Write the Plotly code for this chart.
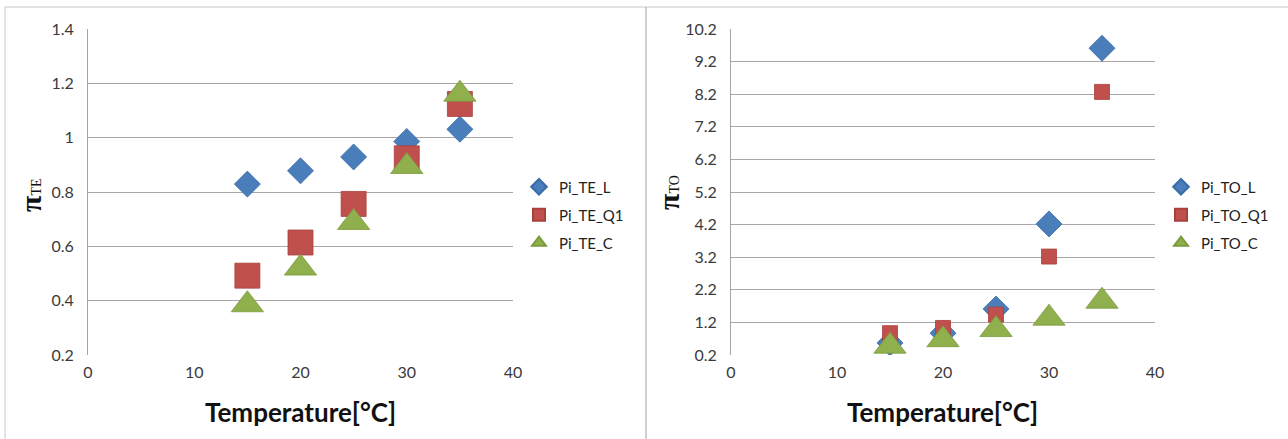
import plotly.graph_objects as go

temps = [15, 20, 25, 30, 35]

pi_te_l = [0.829, 0.878, 0.929, 0.986, 1.031]
pi_te_q1 = [0.492, 0.614, 0.756, 0.924, 1.124]
pi_te_c = [0.385, 0.520, 0.688, 0.894, 1.160]

pi_to_l = [0.57, 0.87, 1.61, 4.22, 9.61]
pi_to_q1 = [0.87, 1.03, 1.44, 3.22, 8.27]
pi_to_c = [0.47, 0.67, 0.98, 1.33, 1.85]

te_ticks = [0.2, 0.4, 0.6, 0.8, 1.0, 1.2, 1.4]
te_ticklabels = ["0.2", "0.4", "0.6", "0.8", "1", "1.2", "1.4"]
to_ticks = [0.2, 1.2, 2.2, 3.2, 4.2, 5.2, 6.2, 7.2, 8.2, 9.2, 10.2]
to_ticklabels = ["0.2", "1.2", "2.2", "3.2", "4.2", "5.2", "6.2", "7.2", "8.2", "9.2", "10.2"]
x_ticks = [0, 10, 20, 30, 40]

W, H = 1288, 439
FONT = "Lato"
BLUE, RED, GREEN = "#4a7ebb", "#c0504d", "#8fb04c"
BLUE_L, RED_L, GREEN_L = "#3a6aa8", "#a8403d", "#7a9a3c"

fig = go.Figure()

def add(x, y, name, sym, size, col, edge, xa, ya, leg):
    fig.add_trace(go.Scatter(
        x=x, y=y, name=name, mode="markers", xaxis=xa, yaxis=ya, legend=leg,
        marker=dict(symbol=sym, size=size, color=col,
                    line=dict(color=edge, width=0.8)),
    ))

add(temps, pi_te_l, "Pi_TE_L", "diamond", 20, BLUE, BLUE_L, "x", "y", "legend")
add(temps, pi_te_q1, "Pi_TE_Q1", "square", 25, RED, RED_L, "x", "y", "legend2")
add(temps, pi_te_c, "Pi_TE_C", "triangle-up", 28, GREEN, GREEN_L, "x", "y", "legend3")
add(temps, pi_to_l, "Pi_TO_L", "diamond", 20, BLUE, BLUE_L, "x2", "y2", "legend4")
add(temps, pi_to_q1, "Pi_TO_Q1", "square", 15, RED, RED_L, "x2", "y2", "legend5")
add(temps, pi_to_c, "Pi_TO_C", "triangle-up", 28, GREEN, GREEN_L, "x2", "y2", "legend6")

ydom = [(H - 355) / H, (H - 29) / H]
grid = "#a6a6a6"
tickfont = dict(family=FONT, size=16, color="#3a3a3a")

xcommon = dict(range=[0, 40], tickvals=x_ticks, showgrid=False, zeroline=False,
               showline=False, ticks="", tickfont=tickfont, fixedrange=True,
               ticklabelstandoff=6, automargin=False)
ycommon = dict(showgrid=True, gridcolor=grid, gridwidth=1, zeroline=False,
               showline=True, linecolor=grid, linewidth=1, ticks="",
               tickfont=tickfont, ticklabelstandoff=10, fixedrange=True,
               automargin=False)

def legend_cfg(xpx, ypx):
    return dict(x=xpx / W, y=1 - ypx / H, xanchor="left", yanchor="middle",
                bgcolor="rgba(0,0,0,0)", itemsizing="constant",
                font=dict(family=FONT, size=15, color="#222222"),
                itemwidth=30, tracegroupgap=0)

fig.update_layout(
    width=W, height=H, autosize=False,
    margin=dict(l=0, r=0, t=0, b=0, pad=0, autoexpand=False),
    paper_bgcolor="white", plot_bgcolor="white",
    xaxis=dict(domain=[88 / W, 513 / W], anchor="y", **xcommon),
    yaxis=dict(domain=ydom, anchor="x", range=[0.2, 1.4], tickvals=te_ticks,
               ticktext=te_ticklabels, **ycommon),
    xaxis2=dict(domain=[731 / W, 1155 / W], anchor="y2", **xcommon),
    yaxis2=dict(domain=ydom, anchor="x2", range=[0.2, 10.2], tickvals=to_ticks,
                ticktext=to_ticklabels, **ycommon),
    legend=legend_cfg(519, 187),
    legend2=legend_cfg(519, 215),
    legend3=legend_cfg(519, 243),
    legend4=legend_cfg(1161, 187),
    legend5=legend_cfg(1161, 215),
    legend6=legend_cfg(1161, 243),
    showlegend=True,
)

# x-axis titles
for cx in (300, 943):
    fig.add_annotation(x=cx / W, y=1 - 412 / H, xref="paper", yref="paper",
                       text="<b>Temperature[°C]</b>", showarrow=False,
                       font=dict(family=FONT, size=26, color="#111111"),
                       xanchor="center", yanchor="middle")

# y-axis titles
for cx, cy, sub in ((30, 195, "TE"), (668, 193, "TO")):
    fig.add_annotation(x=cx / W, y=1 - cy / H, xref="paper", yref="paper",
                       text="<b>π</b><span style='font-size:14px'>" + sub + "</span>",
                       showarrow=False, textangle=-90,
                       font=dict(family="Liberation Serif", size=30, color="#111111"),
                       xanchor="center", yanchor="middle")

# chart frame borders
border = "#c8c8c8"
fig.add_shape(type="line", xref="paper", yref="paper", x0=5 / W, x1=1, y0=1 - 7 / H, y1=1 - 7 / H,
              line=dict(color=border, width=1))
fig.add_shape(type="line", xref="paper", yref="paper", x0=5 / W, x1=5 / W, y0=0, y1=1 - 7 / H,
              line=dict(color=border, width=1))
fig.add_shape(type="line", xref="paper", yref="paper", x0=646 / W, x1=646 / W, y0=0, y1=1 - 7 / H,
              line=dict(color="#a0a0a0", width=1))

fig.write_html(
    "out.html",
    config={"displayModeBar": False},
    post_script="document.body.style.margin='0';document.body.style.overflow='hidden';",
)
